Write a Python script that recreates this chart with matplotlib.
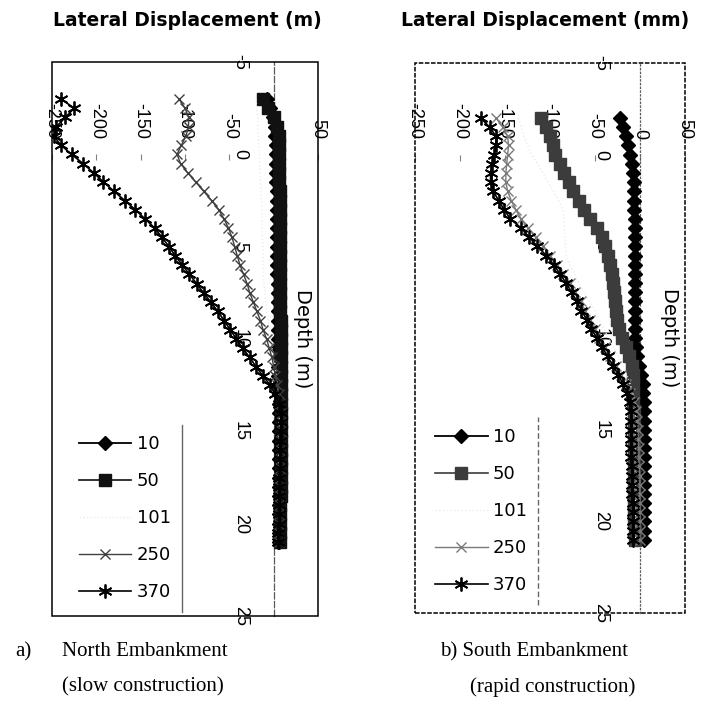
import matplotlib
matplotlib.use('Agg')
import matplotlib.pyplot as plt
from matplotlib.lines import Line2D
from matplotlib.patches import Rectangle

plt.rcParams['font.family'] = ['Liberation Sans', 'DejaVu Sans']
plt.rcParams['axes.unicode_minus'] = False

# inclinometer reading depths (m)
depth_n = [-3.0, -2.5, -2.0, -1.5, -1.0, -0.5, 0.0, 0.5, 1.0, 1.5,
           2.0, 2.5, 3.0, 3.5, 4.0, 4.5, 5.0, 5.5, 6.0, 6.5,
           7.0, 7.5, 8.0, 8.5, 9.0, 9.5, 10.0, 10.5, 11.0, 11.5,
           12.0, 12.5, 13.0, 13.5, 14.0, 14.5, 15.0, 15.5, 16.0, 16.5,
           17.0, 17.5, 18.0, 18.5, 19.0, 19.5, 20.0, 20.5, 21.0]
depth_s = depth_n[2:]

# North embankment (slow construction), lateral displacement (mm)
north_10 = [-8, -4, -1, 1, 2, 3, 3, 3, 3, 3,
            4, 4, 4, 4, 4, 4, 4, 4, 4, 4,
            5, 5, 5, 5, 5, 5, 5, 5, 5, 5,
            5, 5, 6, 6, 6, 6, 6, 6, 6, 6,
            6, 6, 6, 6, 6, 6, 6, 6, 6]
north_50 = [-12, -6, 0, 4, 6, 6, 6, 6, 6, 6,
            7, 7, 7, 7, 7, 7, 7, 7, 7, 7,
            7, 7, 7, 7, 8, 8, 8, 8, 8, 8,
            8, 8, 8, 8, 8, 8, 8, 8, 8, 8,
            8, 8, 8, 8, 7, 7, 7, 7, 7]
north_101 = [-20, -19, -18, -18, -17, -17, -16, -16, -15, -15,
             -14, -14, -13, -13, -13, -13, -12, -12, -12, -12,
             -11, -10, -9, -8, -6, -5, -3, -2, 0, 2,
             3, 4, 5, 6, 6, 6, 6, 6, 6, 6,
             6, 6, 6, 6, 6, 6, 6, 6, 6]
north_250 = [-107, -100, -96, -96, -99, -104, -109, -105, -97, -88,
             -79, -70, -62, -56, -51, -47, -44, -41, -38, -34,
             -30, -27, -23, -19, -15, -12, -8, -5, -2, 0,
             2, 4, 6, 7, 8, 8, 8, 8, 7, 7,
             7, 7, 7, 7, 6, 6, 6, 6, 6]
north_370 = [-240, -225, -235, -245, -248, -240, -228, -215, -203, -192,
             -180, -168, -156, -145, -134, -126, -118, -111, -103, -95,
             -87, -79, -71, -63, -56, -49, -42, -35, -27, -20,
             -12, -4, 2, 6, 8, 8, 8, 7, 7, 7,
             7, 6, 6, 6, 6, 6, 6, 5, 5]

# South embankment (rapid construction), lateral displacement (mm)
south_10 = [-22, -19, -16, -13, -11, -9, -8, -7, -7, -6,
            -6, -5, -5, -5, -5, -5, -5, -5, -5, -5,
            -5, -5, -5, -5, -5, -4, -3, -1, 1, 3,
            4, 5, 5, 5, 5, 5, 5, 5, 5, 5,
            5, 5, 5, 5, 5, 5, 5]
south_50 = [-110, -104, -100, -97, -94, -89, -84, -79, -74, -68,
            -62, -55, -48, -42, -39, -35, -33, -31, -30, -29,
            -28, -27, -25, -23, -20, -16, -12, -9, -8, -8,
            -8, -8, -7, -7, -7, -7, -7, -7, -6, -6,
            -6, -6, -6, -6, -6, -5, -5]
south_101 = [-135, -132, -129, -125, -120, -114, -108, -102, -96, -90,
             -86, -84, -84, -83, -83, -82, -78, -73, -68, -62,
             -56, -50, -45, -40, -35, -29, -24, -19, -15, -11,
             -8, -6, -5, -5, -5, -5, -5, -5, -5, -5,
             -5, -5, -5, -5, -5, -5, -5]
south_250 = [-160, -152, -147, -146, -147, -148, -149, -149, -147, -143,
             -138, -132, -124, -116, -108, -100, -92, -85, -78, -72,
             -66, -61, -55, -50, -45, -39, -33, -27, -21, -16,
             -11, -7, -4, -3, -2, -2, -1, -1, -1, 0,
             0, 0, 0, 0, 0, 0, 0]
south_370 = [-177, -167, -160, -160, -162, -164, -166, -166, -163, -157,
             -151, -144, -132, -123, -114, -104, -96, -89, -82, -76,
             -70, -65, -59, -54, -48, -42, -36, -30, -24, -19,
             -14, -11, -10, -10, -10, -10, -10, -10, -9, -9,
             -9, -9, -8, -8, -8, -8, -8]

labels = ['10', '50', '101', '250', '370']
disp_ticks = [-250, -200, -150, -100, -50, 0, 50]
depth_ticks = [-5, 0, 5, 10, 15, 20, 25]


def panel(ax, depth, series, x250_color, sq_color, frame_ls, spine_ls, ypad, leg_xy):
    styles = [
        dict(marker='D', ms=7, color='black', lw=1.3),
        dict(marker='s', ms=8.5, color=sq_color, lw=1.2),
        dict(marker='', color='#ececec', lw=1.0, ls=':'),
        dict(marker='x', ms=7, mew=1.0, color=x250_color, lw=1.0),
        dict(marker=(6, 2, 0), ms=10, mew=1.3, color='black', lw=1.2),
    ]
    for vals, lab, st in zip(series, labels, styles):
        ax.plot(vals, depth, label=lab, zorder=3, **st)

    ax.set_xlim(-250, 50)
    ax.set_ylim(25, -5)

    # axes cross at the origin, like the spreadsheet original
    ax.spines['top'].set_position(('data', 0))
    ax.spines['top'].set_color('none')
    ax.spines['left'].set_position(('data', 0))
    ax.spines['left'].set_color('0.35')
    ax.spines['left'].set_linestyle(spine_ls)
    ax.spines['left'].set_linewidth(0.9)
    ax.spines['right'].set_visible(False)
    ax.spines['bottom'].set_visible(False)
    ax.xaxis.set_ticks_position('top')
    ax.set_xticks(disp_ticks)
    ax.set_xticklabels([str(v) for v in disp_ticks], rotation=-90, fontsize=13)
    ax.tick_params(axis='x', direction='in', length=4, color='0.5', pad=11)
    ax.set_yticks(depth_ticks)
    ax.set_yticklabels([str(v) for v in depth_ticks], rotation=-90, fontsize=13,
                       va='center')
    ax.tick_params(axis='y', length=0, pad=ypad)

    ax.add_patch(Rectangle((0, 0), 1, 1, transform=ax.transAxes, fill=False,
                           ec='black', lw=1.1, ls=frame_ls, clip_on=False, zorder=5))
    ax.text(33, 10, 'Depth (m)', rotation=-90, ha='center', va='center',
            fontsize=14, family='DejaVu Sans')

    leg = ax.legend(loc='lower left', bbox_to_anchor=leg_xy, borderaxespad=0,
                    prop={'family': 'DejaVu Sans', 'size': 13},
                    handlelength=2.9, handletextpad=0.3,
                    labelspacing=1.05, frameon=True, fancybox=False,
                    edgecolor='none', facecolor='white', borderpad=0.6)
    leg.set_zorder(6)
    return leg


fig = plt.figure(figsize=(7.01, 7.11), dpi=100, facecolor='white')
ax0 = fig.add_axes([0.0742, 0.1336, 0.3795, 0.7792])
ax1 = fig.add_axes([0.592, 0.1378, 0.385, 0.7736])

leg0 = panel(ax0, depth_n, [north_10, north_50, north_101, north_250, north_370],
             '#404040', '#111111', '-', (0, (5, 2)), 18, (0.06, 0.007))
leg1 = panel(ax1, depth_s, [south_10, south_50, south_101, south_250, south_370],
             '#7a7a7a', '#3c3c3c', (0, (3, 1)), (0, (1, 2)), 22, (0.035, 0.015))

fig.text(187 / 701, 1 - 21 / 711, 'Lateral Displacement (m)', ha='center', va='center',
         fontsize=13.5, fontweight='bold', family='DejaVu Sans')
fig.text(545 / 701, 1 - 21 / 711, 'Lateral Displacement (mm)', ha='center', va='center',
         fontsize=13.5, fontweight='bold', family='DejaVu Sans')

serif = ['Liberation Serif', 'DejaVu Serif']
fig.text(15 / 701, 1 - 652 / 711, 'a)', family=serif, fontsize=15, va='center')
fig.text(62 / 701, 1 - 652 / 711, 'North Embankment', family=serif, fontsize=15, va='center')
fig.text(62 / 701, 1 - 687 / 711, '(slow construction)', family=serif, fontsize=15, va='center')
fig.text(440 / 701, 1 - 652 / 711, 'b) South Embankment', family=serif, fontsize=15, va='center')
fig.text(470 / 701, 1 - 687 / 711, '(rapid construction)', family=serif, fontsize=15, va='center')

# only the right edge of each legend box shows in the original
fig.canvas.draw()
inv = fig.transFigure.inverted()
for leg, ls in [(leg0, '-'), (leg1, (0, (4, 2)))]:
    (x0, y0), (x1, y1) = inv.transform(leg.get_window_extent())
    fig.add_artist(Line2D([x1, x1], [y0, y1], color='0.4', lw=1.0, ls=ls,
                          transform=fig.transFigure))

fig.savefig('out.png', dpi=100, facecolor='white')
